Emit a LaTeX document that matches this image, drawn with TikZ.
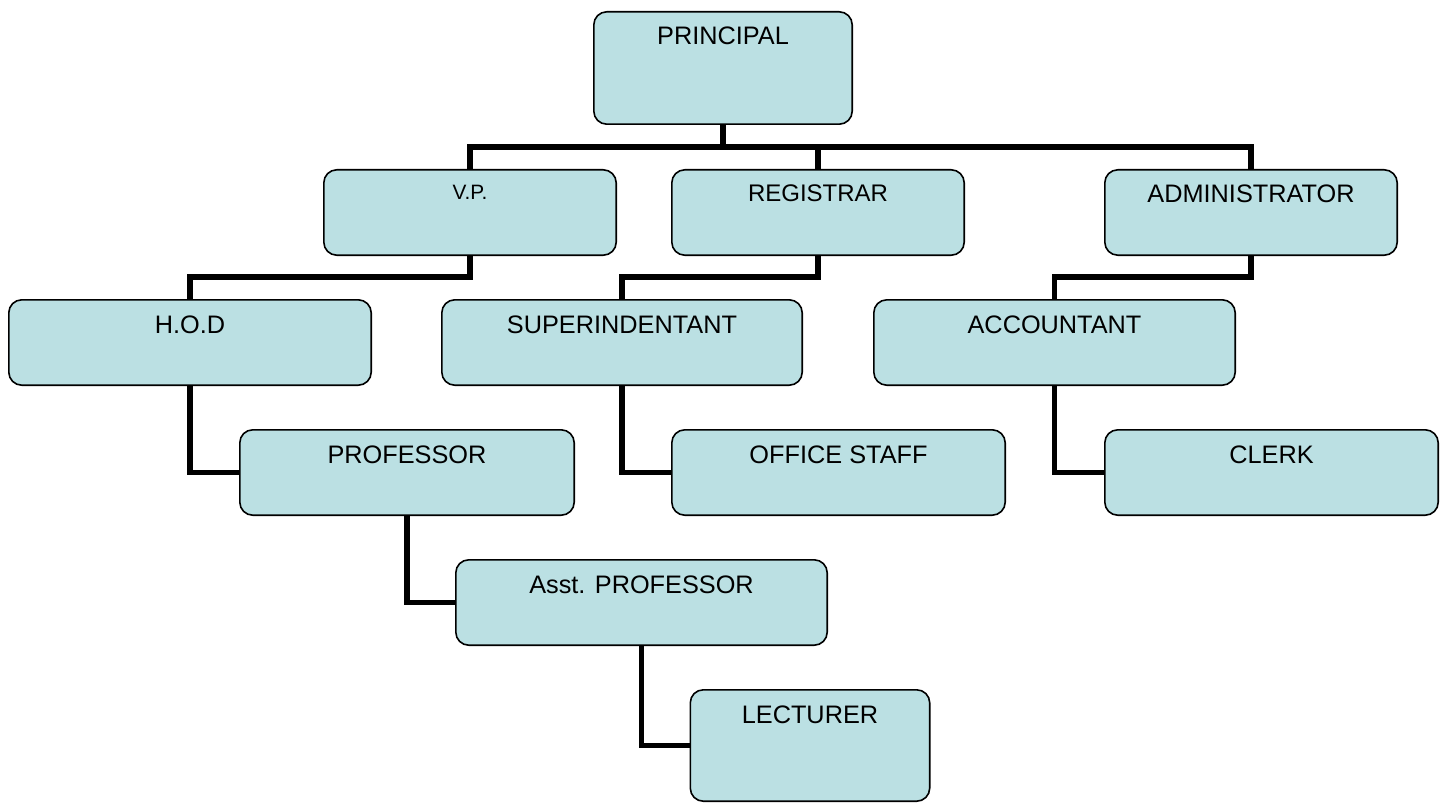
\documentclass[tikz,border=0pt]{standalone}
\usepackage{fontspec}
\setmainfont{Liberation Sans}
\usetikzlibrary{backgrounds}
\definecolor{boxfill}{RGB}{187,224,227}
\tikzset{
  box/.style={rectangle, draw=black, line width=1.6pt, fill=boxfill, rounded corners=13pt, inner sep=0pt},
  lbl/.style={anchor=base, inner sep=0pt, font=\fontsize{25.3}{29}\selectfont},
  conn/.style={draw=black, line width=5.8pt, line join=miter}
}
\begin{document}
\begin{tikzpicture}[x=1pt,y=-1pt]
\useasboundingbox (0,0) rectangle (1447,805);
% boxes
\node[box, minimum width=258.4pt, minimum height=112.4pt] (p) at (723,68) {};
\node[box, minimum width=292.4pt, minimum height=85.4pt] (vp) at (470,212.5) {};
\node[box, minimum width=292.4pt, minimum height=85.4pt] (reg) at (818,212.5) {};
\node[box, minimum width=292.4pt, minimum height=85.4pt] (adm) at (1251,212.5) {};
\node[box, minimum width=362.4pt, minimum height=85.4pt] (hod) at (190,342.5) {};
\node[box, minimum width=360.4pt, minimum height=85.4pt] (sup) at (622,342.5) {};
\node[box, minimum width=361.4pt, minimum height=85.4pt] (acc) at (1054.5,342.5) {};
\node[box, minimum width=334.4pt, minimum height=85.4pt] (prof) at (407,472.5) {};
\node[box, minimum width=333.4pt, minimum height=85.4pt] (off) at (838.5,472.5) {};
\node[box, minimum width=333.4pt, minimum height=85.4pt] (clerk) at (1271.5,472.5) {};
\node[box, minimum width=371.4pt, minimum height=85.4pt] (asst) at (641.5,602.5) {};
\node[box, minimum width=239.4pt, minimum height=111.4pt] (lect) at (810,745.5) {};
% labels
\node[lbl] (tp) at ([yshift=-34pt]p.north) {PRINCIPAL};
\node[lbl, font=\fontsize{20.8}{24}\selectfont] (tvp) at ([yshift=-30pt]vp.north) {V.P.};
\node[lbl, font=\fontsize{24}{28}\selectfont] (treg) at ([yshift=-32pt]reg.north) {REGISTRAR};
\node[lbl] (tadm) at ([yshift=-33pt]adm.north) {ADMINISTRATOR};
\node[lbl] (thod) at ([yshift=-34pt]hod.north) {H.O.D};
\node[lbl] (tsup) at ([yshift=-34pt]sup.north) {SUPERINDENTANT};
\node[lbl] (tacc) at ([yshift=-34pt]acc.north) {ACCOUNTANT};
\node[lbl] (tprof) at ([yshift=-34pt]prof.north) {PROFESSOR};
\node[lbl] (toff) at ([yshift=-34pt]off.north) {OFFICE STAFF};
\node[lbl] (tclerk) at ([yshift=-34pt]clerk.north) {CLERK};
\node[lbl] (tasst) at ([yshift=-34pt]asst.north) {Asst. PROFESSOR};
\node[lbl] (tlect) at ([yshift=-34pt]lect.north) {LECTURER};
\coordinate (bus) at (723,147);
\begin{pgfonlayer}{background}
\fill[white] (0,0) rectangle (1447,805);
\draw[conn] (p.south) -- (bus);
\draw[conn] (vp.north) -- (vp.north |- bus) -- (adm.north |- bus) -- (adm.north);
\draw[conn] (reg.north) -- (reg.north |- bus);
\draw[conn] (vp.south) -- ++(0,21) -| (hod.north);
\draw[conn] (reg.south) -- ++(0,21) -| (sup.north);
\draw[conn] (adm.south) -- ++(0,21) -| (acc.north);
\draw[conn] (hod.south) |- (prof.west);
\draw[conn] (sup.south) |- (off.west);
\draw[conn] (acc.south) |- (clerk.west);
\draw[conn] (prof.south) |- (asst.west);
\draw[conn] (asst.south) |- (lect.west);
\end{pgfonlayer}
\end{tikzpicture}
\end{document}
